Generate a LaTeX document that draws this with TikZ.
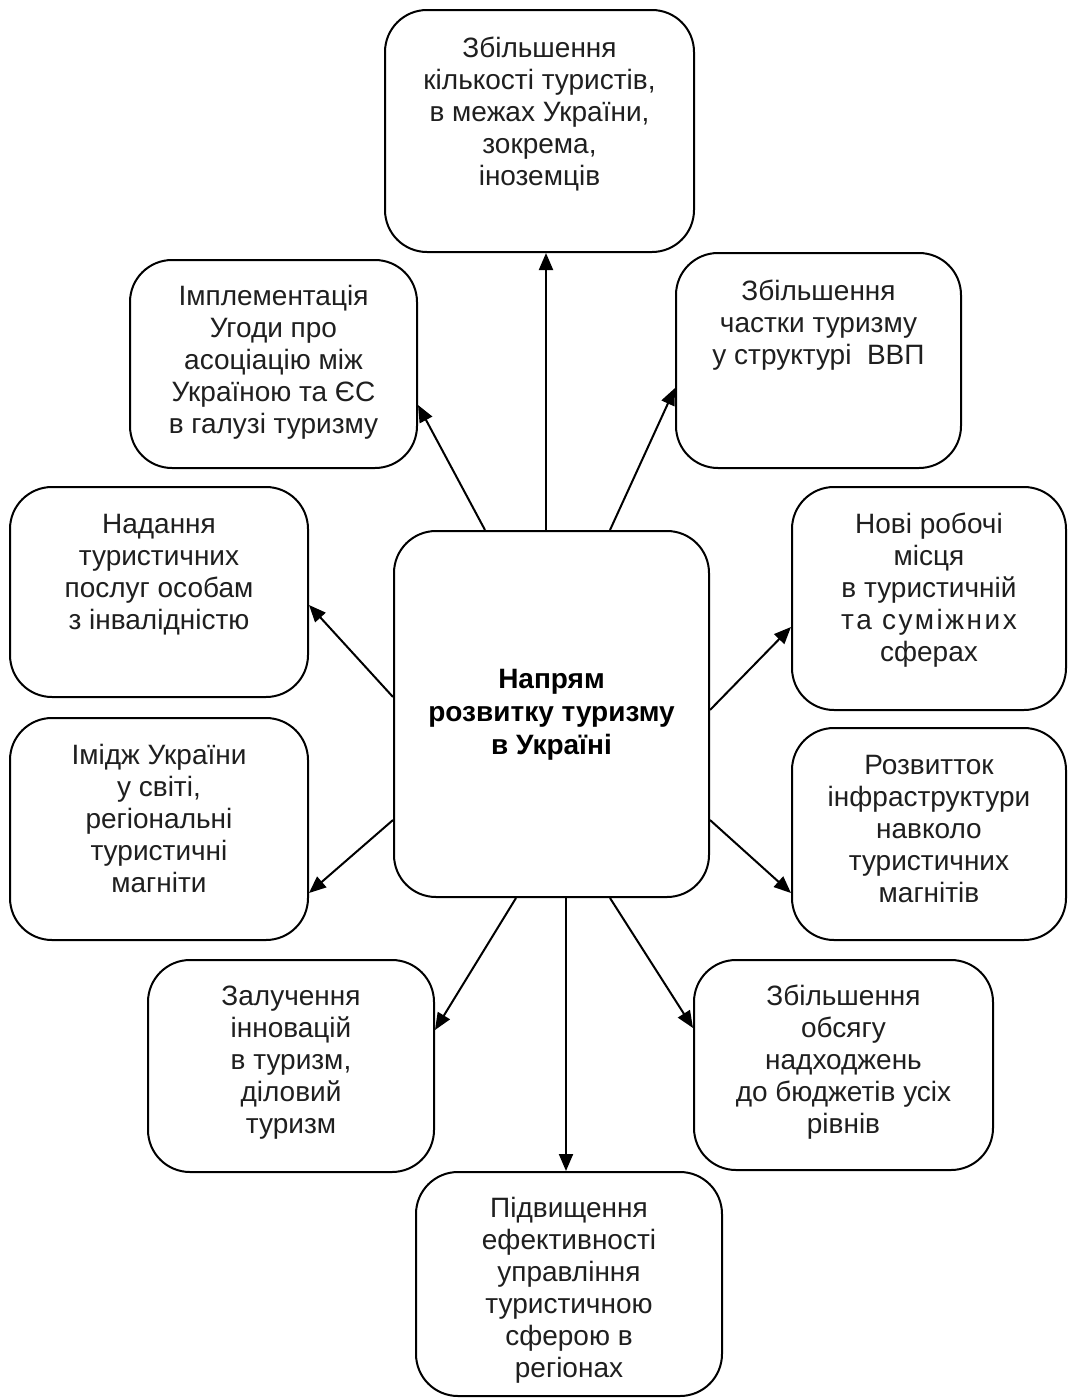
\documentclass[tikz,border=0pt]{standalone}
\usepackage{fontspec}
\setmainfont{Liberation Sans}
\usetikzlibrary{arrows.meta,calc}
\tikzset{
  box/.style={draw=black, line width=2pt, rounded corners=42pt, fill=white, inner sep=0pt},
  txt/.style={anchor=base, inner sep=0pt, text=black!88, font=\fontsize{28}{32}\selectfont},
  arr/.style={line width=2pt, -{Triangle[length=17pt,width=14pt]}},
}
\newcommand{\ml}[1]{\begin{tabular}[t]{@{}c@{}}#1\end{tabular}}
\begin{document}
\begin{tikzpicture}[x=1pt,y=-1pt]
\useasboundingbox (0,0) rectangle (1068,1398);
% boxes
\node[box, minimum width=309, minimum height=242] (top) at (539.5,131) {};
\node[box, minimum width=287, minimum height=208] (impl) at (273.5,364) {};
\node[box, minimum width=285, minimum height=215] (gdp) at (818.5,360.5) {};
\node[box, minimum width=298, minimum height=210] (nad) at (159,592) {};
\node[box, minimum width=274, minimum height=223] (jobs) at (929,598.5) {};
\node[box, minimum width=315, minimum height=366] (c) at (551.5,714) {};
\node[box, minimum width=298, minimum height=222] (img) at (159,829) {};
\node[box, minimum width=274, minimum height=212] (infra) at (929,834) {};
\node[box, minimum width=286, minimum height=212] (innov) at (291,1066) {};
\node[box, minimum width=299, minimum height=210] (budget) at (843.5,1065) {};
\node[box, minimum width=306, minimum height=224] (mgmt) at (569,1284) {};
% texts
\node[txt] (top-t) at (539.5,57) {\ml{Збільшення\\кількості туристів,\\в межах України,\\зокрема,\\іноземців}};
\node[txt] (impl-t) at (273.5,305) {\ml{Імплементація\\Угоди про\\асоціацію між\\Україною та ЄС\\в галузі туризму}};
\node[txt] (gdp-t) at (818.5,300) {\ml{Збільшення\\частки туризму\\у структурі \ ВВП}};
\node[txt] (nad-t) at (159,533) {\ml{Надання\\туристичних\\послуг особам\\з інвалідністю}};
\node[txt] (jobs-t) at (929,533) {\ml{Нові робочі\\місця\\в туристичній\\{\addfontfeature{LetterSpace=9}та суміжних}\\сферах}};
\node[txt, font=\fontsize{28}{33}\selectfont\bfseries, text=black] (c-t) at (551.5,688) {\ml{Напрям\\розвитку туризму\\в Україні}};
\node[txt] (img-t) at (159,764) {\ml{Імідж України\\у світі,\\регіональні\\туристичні\\магніти}};
\node[txt] (infra-t) at (929,774) {\ml{Розвитток\\інфраструктури\\навколо\\туристичних\\магнітів}};
\node[txt] (innov-t) at (291,1005) {\ml{Залучення\\інновацій\\в туризм,\\діловий\\туризм}};
\node[txt] (budget-t) at (843.5,1005) {\ml{Збільшення\\обсягу\\надходжень\\до бюджетів усіх\\рівнів}};
\node[txt] (mgmt-t) at (569,1217) {\ml{Підвищення\\ефективності\\управління\\туристичною\\сферою в\\регіонах}};
% connectors
\draw[arr] ([xshift=-5.5]c.north) -- ([xshift=6.5]top.south);
\draw[arr] ([xshift=-66.5]c.north) -- ([yshift=-41]impl.east);
\draw[arr] ([xshift=58.5]c.north) -- ([yshift=-27.5]gdp.west);
\draw[arr] ([yshift=17]c.west) -- ([yshift=-13]nad.east);
\draw[arr] ([yshift=-106]c.west) -- ([yshift=-64]img.east);
\draw[arr] ([yshift=4]c.east) -- ([yshift=-28.5]jobs.west);
\draw[arr] ([yshift=-106]c.east) -- ([yshift=-59]infra.west);
\draw[arr] ([xshift=-35.5]c.south) -- ([yshift=36]innov.east);
\draw[arr] ([xshift=58.5]c.south) -- ([yshift=37]budget.west);
\draw[arr] ([xshift=14.5]c.south) -- ([xshift=-3]mgmt.north);
\end{tikzpicture}
\end{document}
